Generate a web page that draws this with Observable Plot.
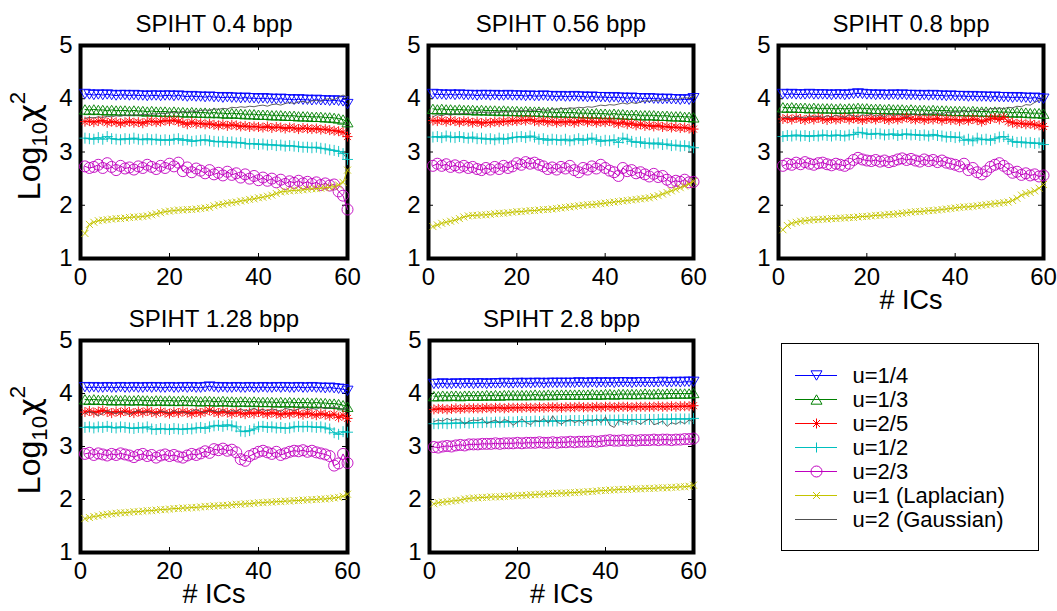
<!DOCTYPE html>
<html><head><meta charset="utf-8">
<script src="https://cdn.jsdelivr.net/npm/d3@7"></script>
<script src="https://cdn.jsdelivr.net/npm/@observablehq/plot@0.6"></script>
<style>
html,body{margin:0;padding:0;background:#fff;overflow:hidden;}
#root{position:relative;width:1057px;height:611px;overflow:hidden;font-family:"Liberation Sans",Arial,Helvetica,sans-serif;color:#000;}
#root svg{position:absolute;overflow:visible;}
.ylab{position:absolute;transform:translate(-50%,-50%) rotate(-90deg);font-size:32px;white-space:nowrap;line-height:1;}
.ylab sub{font-size:0.7em;vertical-align:-0.3em;line-height:0;}
.ylab sup{font-size:0.7em;vertical-align:0.65em;line-height:0;}
.ylab .chi{font-family:"DejaVu Sans",sans-serif;font-size:0.95em;}
</style></head>
<body><div id="root"></div>
<script>
// ---------------- data ----------------
const icCount = [1,2,3,4,5,6,7,8,9,10,11,12,13,14,15,16,17,18,19,20,21,22,23,24,25,26,27,28,29,30,
 31,32,33,34,35,36,37,38,39,40,41,42,43,44,45,46,47,48,49,50,51,52,53,54,55,56,57,58,59,60];
const seriesNames = ["u=1/4","u=1/3","u=2/5","u=1/2","u=2/3","u=1 (Laplacian)","u=2 (Gaussian)"];
const panelTitles = ["SPIHT 0.4 bpp","SPIHT 0.56 bpp","SPIHT 0.8 bpp","SPIHT 1.28 bpp","SPIHT 2.8 bpp"];
const xTicks = [0,20,40,60];
const yTicks = [1,2,3,4,5];
const xLabel = "# ICs";

// SPIHT 0.4 bpp
const b04_u14 = [4.09,4.08,4.07,4.08,4.07,4.08,4.07,4.06,4.07,4.07,4.06,4.07,4.06,4.06,4.05,4.06,4.06,4.05,4.06,4.06,
 4.05,4.06,4.05,4.04,4.05,4.04,4.04,4.03,4.04,4.03,4.03,4.02,4.03,4.02,4.02,4.01,4.02,4.01,4.01,4.00,
 4.01,4.00,4.00,3.99,4.00,3.99,3.99,3.98,3.99,3.98,3.98,3.97,3.98,3.97,3.97,3.96,3.97,3.96,3.95,3.90];
const b04_u13 = [3.80,3.79,3.80,3.79,3.79,3.78,3.79,3.78,3.78,3.78,3.77,3.78,3.77,3.77,3.76,3.77,3.76,3.76,3.76,3.75,
 3.76,3.75,3.75,3.74,3.75,3.74,3.74,3.74,3.73,3.74,3.73,3.73,3.72,3.73,3.72,3.72,3.71,3.71,3.71,3.70,
 3.70,3.70,3.69,3.69,3.69,3.68,3.68,3.68,3.67,3.67,3.67,3.66,3.66,3.66,3.65,3.65,3.64,3.63,3.61,3.56];
const b04_u25 = [3.57,3.58,3.56,3.58,3.59,3.55,3.57,3.56,3.54,3.56,3.57,3.55,3.56,3.54,3.57,3.58,3.56,3.57,3.59,3.58,
 3.60,3.57,3.55,3.52,3.56,3.53,3.54,3.52,3.53,3.51,3.50,3.52,3.49,3.51,3.50,3.48,3.49,3.47,3.48,3.47,
 3.46,3.48,3.45,3.47,3.46,3.44,3.46,3.45,3.43,3.45,3.44,3.43,3.44,3.42,3.43,3.41,3.40,3.39,3.37,3.29];
const b04_u12 = [3.26,3.25,3.24,3.27,3.24,3.29,3.25,3.24,3.23,3.25,3.24,3.26,3.24,3.23,3.25,3.23,3.24,3.22,3.23,3.22,
 3.24,3.25,3.22,3.23,3.20,3.21,3.22,3.23,3.21,3.20,3.19,3.20,3.18,3.19,3.17,3.18,3.16,3.15,3.16,3.14,
 3.15,3.13,3.14,3.12,3.13,3.11,3.12,3.11,3.10,3.09,3.09,3.08,3.09,3.07,3.06,3.04,3.03,3.01,2.97,2.86];
const b04_u23 = [2.73,2.70,2.72,2.76,2.70,2.79,2.72,2.66,2.74,2.69,2.71,2.67,2.73,2.70,2.76,2.72,2.68,2.74,2.70,2.78,
 2.73,2.80,2.64,2.71,2.62,2.69,2.65,2.60,2.66,2.58,2.61,2.56,2.63,2.57,2.60,2.52,2.58,2.50,2.55,2.47,
 2.52,2.46,2.50,2.43,2.48,2.40,2.45,2.42,2.46,2.41,2.44,2.40,2.43,2.38,2.41,2.37,2.39,2.26,2.18,1.92];
const b04_u1 = [1.47,1.64,1.68,1.71,1.72,1.73,1.74,1.75,1.75,1.76,1.77,1.78,1.78,1.79,1.80,1.82,1.84,1.86,1.88,1.89,
 1.90,1.91,1.91,1.92,1.92,1.93,1.94,1.95,1.96,1.99,2.01,2.02,2.04,2.05,2.06,2.08,2.09,2.11,2.12,2.14,
 2.15,2.17,2.19,2.22,2.25,2.26,2.27,2.28,2.28,2.29,2.30,2.31,2.31,2.32,2.33,2.34,2.35,2.38,2.43,2.66];
const b04_u2 = [3.63,3.65,3.64,3.66,3.65,3.67,3.66,3.68,3.67,3.69,3.68,3.70,3.69,3.71,3.70,3.72,3.71,3.73,3.72,3.74,
 3.75,3.73,3.76,3.75,3.77,3.76,3.78,3.79,3.78,3.81,3.80,3.82,3.81,3.84,3.83,3.85,3.84,3.86,3.85,3.87,
 3.88,3.86,3.89,3.90,3.88,3.91,3.93,3.91,3.94,3.95,3.93,3.96,3.97,3.95,3.99,4.00,3.98,4.03,4.07,4.03];

// SPIHT 0.56 bpp
const b056_u14 = [4.09,4.08,4.08,4.07,4.08,4.07,4.08,4.07,4.07,4.07,4.06,4.07,4.07,4.06,4.07,4.06,4.06,4.07,4.06,4.06,
 4.06,4.05,4.06,4.05,4.05,4.06,4.05,4.05,4.04,4.05,4.04,4.04,4.05,4.04,4.04,4.03,4.04,4.03,4.03,4.03,
 4.02,4.03,4.02,4.02,4.01,4.02,4.01,4.01,4.00,4.01,4.00,4.00,3.99,4.00,3.99,3.99,3.98,3.99,3.98,4.01];
const b056_u13 = [3.81,3.80,3.81,3.80,3.80,3.79,3.80,3.79,3.79,3.79,3.78,3.79,3.78,3.78,3.78,3.77,3.78,3.77,3.77,3.77,
 3.76,3.77,3.76,3.76,3.76,3.75,3.75,3.75,3.74,3.75,3.74,3.74,3.74,3.73,3.73,3.73,3.72,3.73,3.72,3.72,
 3.71,3.72,3.71,3.71,3.70,3.70,3.70,3.69,3.69,3.69,3.69,3.68,3.68,3.68,3.67,3.67,3.67,3.66,3.66,3.65];
const b056_u25 = [3.59,3.58,3.60,3.57,3.59,3.58,3.56,3.58,3.57,3.55,3.57,3.54,3.56,3.55,3.57,3.56,3.58,3.57,3.59,3.58,
 3.60,3.59,3.61,3.58,3.57,3.59,3.56,3.58,3.55,3.57,3.56,3.58,3.55,3.57,3.59,3.56,3.58,3.55,3.57,3.56,
 3.58,3.55,3.53,3.56,3.52,3.54,3.50,3.52,3.49,3.50,3.48,3.50,3.47,3.48,3.46,3.47,3.45,3.46,3.44,3.43];
const b056_u12 = [3.28,3.29,3.27,3.30,3.28,3.27,3.29,3.27,3.26,3.28,3.25,3.26,3.24,3.25,3.23,3.26,3.24,3.25,3.27,3.28,
 3.29,3.27,3.30,3.28,3.24,3.25,3.22,3.24,3.23,3.22,3.24,3.21,3.23,3.25,3.22,3.24,3.26,3.23,3.20,3.22,
 3.21,3.23,3.18,3.26,3.24,3.20,3.18,3.19,3.16,3.17,3.15,3.17,3.14,3.15,3.12,3.13,3.11,3.12,3.10,3.08];
const b056_u23 = [2.74,2.78,2.74,2.77,2.72,2.75,2.71,2.74,2.70,2.72,2.68,2.66,2.70,2.67,2.72,2.68,2.74,2.70,2.73,2.79,
 2.76,2.81,2.78,2.80,2.76,2.73,2.68,2.71,2.67,2.72,2.69,2.74,2.66,2.62,2.70,2.67,2.73,2.69,2.76,2.70,
 2.65,2.62,2.55,2.70,2.64,2.66,2.60,2.62,2.58,2.54,2.59,2.53,2.55,2.48,2.43,2.46,2.44,2.48,2.43,2.44];
const b056_u1 = [1.60,1.63,1.66,1.68,1.70,1.72,1.75,1.78,1.80,1.81,1.81,1.82,1.82,1.83,1.84,1.85,1.85,1.86,1.87,1.88,
 1.88,1.89,1.90,1.90,1.91,1.92,1.92,1.93,1.94,1.95,1.96,1.97,1.98,1.99,2.00,2.01,2.01,2.02,2.03,2.04,
 2.05,2.06,2.07,2.08,2.09,2.10,2.11,2.12,2.13,2.14,2.16,2.18,2.21,2.24,2.27,2.30,2.33,2.36,2.40,2.45];
const b056_u2 = [3.66,3.70,3.68,3.71,3.69,3.72,3.71,3.73,3.72,3.74,3.73,3.75,3.74,3.73,3.75,3.74,3.76,3.75,3.77,3.76,
 3.78,3.77,3.79,3.78,3.80,3.79,3.78,3.81,3.80,3.82,3.81,3.83,3.82,3.84,3.83,3.85,3.84,3.86,3.88,3.87,
 3.89,3.88,3.90,3.92,3.90,3.93,3.91,3.94,3.96,3.95,3.97,3.96,3.98,3.97,3.99,3.98,4.00,4.02,4.01,4.04];

// SPIHT 0.8 bpp
const b08_u14 = [4.09,4.08,4.09,4.08,4.08,4.08,4.09,4.08,4.08,4.08,4.08,4.07,4.08,4.08,4.07,4.08,4.09,4.10,4.09,4.08,
 4.08,4.07,4.08,4.07,4.07,4.08,4.07,4.08,4.07,4.07,4.07,4.06,4.07,4.06,4.07,4.06,4.06,4.05,4.06,4.05,
 4.05,4.05,4.04,4.05,4.04,4.04,4.04,4.03,4.04,4.03,4.03,4.03,4.02,4.03,4.02,4.02,4.01,4.02,4.01,4.00];
const b08_u13 = [3.84,3.83,3.84,3.83,3.83,3.83,3.82,3.83,3.82,3.82,3.82,3.82,3.81,3.82,3.81,3.82,3.82,3.83,3.82,3.82,
 3.81,3.81,3.81,3.80,3.81,3.80,3.80,3.80,3.79,3.80,3.79,3.79,3.79,3.78,3.79,3.78,3.78,3.78,3.77,3.77,
 3.77,3.77,3.76,3.77,3.76,3.76,3.76,3.75,3.76,3.75,3.75,3.75,3.74,3.75,3.74,3.74,3.73,3.73,3.73,3.72];
const b08_u25 = [3.62,3.63,3.61,3.64,3.62,3.60,3.63,3.61,3.64,3.62,3.60,3.63,3.61,3.62,3.64,3.61,3.63,3.62,3.60,3.62,
 3.63,3.61,3.64,3.62,3.60,3.63,3.61,3.63,3.65,3.62,3.61,3.63,3.60,3.62,3.61,3.63,3.59,3.62,3.60,3.61,
 3.58,3.61,3.59,3.62,3.60,3.57,3.60,3.62,3.64,3.61,3.65,3.57,3.55,3.53,3.54,3.52,3.53,3.51,3.50,3.48];
const b08_u12 = [3.29,3.31,3.30,3.32,3.30,3.31,3.29,3.31,3.30,3.32,3.31,3.30,3.32,3.31,3.30,3.32,3.33,3.37,3.36,3.34,
 3.33,3.35,3.34,3.32,3.33,3.34,3.31,3.33,3.34,3.32,3.33,3.31,3.32,3.30,3.33,3.31,3.30,3.28,3.29,3.27,
 3.28,3.22,3.24,3.21,3.26,3.23,3.24,3.22,3.25,3.28,3.29,3.24,3.20,3.18,3.19,3.17,3.18,3.16,3.17,3.14];
const b08_u23 = [2.74,2.78,2.76,2.80,2.77,2.81,2.78,2.76,2.79,2.80,2.77,2.75,2.78,2.76,2.74,2.78,2.85,2.89,2.86,2.84,
 2.83,2.85,2.82,2.84,2.81,2.83,2.86,2.88,2.85,2.87,2.84,2.82,2.86,2.83,2.85,2.81,2.84,2.80,2.78,2.76,
 2.73,2.78,2.66,2.70,2.62,2.58,2.64,2.72,2.76,2.79,2.74,2.68,2.61,2.63,2.57,2.60,2.56,2.58,2.54,2.56];
const b08_u1 = [1.54,1.62,1.66,1.68,1.70,1.71,1.72,1.73,1.73,1.74,1.74,1.75,1.75,1.76,1.76,1.77,1.77,1.78,1.79,1.79,
 1.80,1.81,1.81,1.82,1.83,1.83,1.84,1.85,1.86,1.87,1.88,1.88,1.89,1.90,1.90,1.91,1.92,1.93,1.94,1.95,
 1.96,1.97,1.97,1.98,1.99,2.00,2.01,2.02,2.03,2.04,2.05,2.06,2.09,2.13,2.19,2.22,2.24,2.27,2.32,2.39];
const b08_u2 = [3.64,3.66,3.63,3.67,3.65,3.64,3.68,3.66,3.67,3.65,3.68,3.66,3.69,3.67,3.65,3.70,3.68,3.66,3.70,3.68,
 3.71,3.67,3.70,3.66,3.72,3.68,3.71,3.69,3.64,3.70,3.72,3.68,3.73,3.70,3.74,3.72,3.71,3.75,3.73,3.76,
 3.74,3.78,3.76,3.79,3.77,3.80,3.78,3.82,3.81,3.83,3.81,3.84,3.83,3.86,3.85,3.89,3.88,3.93,3.97,4.02];

// SPIHT 1.28 bpp
const b128_u14 = [4.12,4.11,4.12,4.11,4.11,4.12,4.11,4.11,4.12,4.11,4.11,4.12,4.11,4.11,4.12,4.11,4.12,4.11,4.11,4.12,
 4.11,4.11,4.12,4.11,4.12,4.11,4.11,4.12,4.13,4.12,4.11,4.12,4.11,4.11,4.12,4.11,4.11,4.12,4.11,4.11,
 4.12,4.11,4.11,4.12,4.11,4.12,4.11,4.11,4.12,4.11,4.11,4.12,4.11,4.11,4.10,4.11,4.10,4.09,4.08,4.05];
const b128_u13 = [3.89,3.88,3.89,3.88,3.88,3.88,3.87,3.88,3.87,3.88,3.87,3.87,3.88,3.87,3.87,3.86,3.87,3.87,3.86,3.87,
 3.86,3.86,3.87,3.86,3.86,3.86,3.85,3.86,3.86,3.85,3.85,3.86,3.85,3.85,3.84,3.85,3.85,3.84,3.85,3.84,
 3.84,3.84,3.84,3.83,3.84,3.83,3.84,3.83,3.83,3.83,3.83,3.82,3.83,3.82,3.82,3.81,3.81,3.80,3.78,3.75];
const b128_u25 = [3.65,3.67,3.64,3.66,3.68,3.65,3.63,3.66,3.64,3.67,3.65,3.63,3.66,3.64,3.67,3.65,3.63,3.66,3.64,3.62,
 3.65,3.63,3.66,3.64,3.62,3.65,3.63,3.66,3.68,3.65,3.63,3.66,3.64,3.62,3.65,3.63,3.61,3.64,3.62,3.65,
 3.63,3.61,3.64,3.62,3.60,3.63,3.61,3.64,3.62,3.60,3.63,3.61,3.59,3.62,3.60,3.58,3.61,3.55,3.59,3.53];
const b128_u12 = [3.36,3.37,3.35,3.37,3.36,3.38,3.36,3.35,3.37,3.36,3.35,3.34,3.36,3.35,3.37,3.33,3.32,3.34,3.33,3.32,
 3.34,3.33,3.32,3.34,3.33,3.35,3.36,3.34,3.37,3.39,3.40,3.38,3.41,3.39,3.37,3.29,3.28,3.30,3.33,3.37,
 3.38,3.36,3.37,3.35,3.36,3.34,3.35,3.37,3.38,3.37,3.38,3.37,3.36,3.37,3.35,3.33,3.26,3.23,3.28,3.27];
const b128_u23 = [2.86,2.88,2.84,2.87,2.85,2.83,2.86,2.84,2.87,2.85,2.83,2.80,2.84,2.86,2.82,2.84,2.79,2.83,2.85,2.82,
 2.84,2.81,2.79,2.83,2.86,2.84,2.87,2.91,2.88,2.95,2.93,2.96,2.92,2.94,2.89,2.76,2.73,2.82,2.86,2.90,
 2.92,2.89,2.86,2.90,2.84,2.87,2.90,2.92,2.91,2.93,2.90,2.92,2.89,2.87,2.85,2.82,2.64,2.68,2.86,2.69];
const b128_u1 = [1.64,1.66,1.68,1.69,1.71,1.72,1.73,1.74,1.75,1.75,1.76,1.77,1.77,1.78,1.79,1.79,1.80,1.81,1.81,1.82,
 1.83,1.83,1.84,1.84,1.85,1.85,1.86,1.87,1.87,1.88,1.88,1.89,1.89,1.90,1.91,1.91,1.92,1.92,1.93,1.94,
 1.94,1.95,1.95,1.96,1.96,1.97,1.97,1.98,1.98,1.99,1.99,2.00,2.00,2.01,2.01,2.02,2.03,2.04,2.06,2.10];
const b128_u2 = [3.62,3.66,3.64,3.58,3.63,3.67,3.65,3.62,3.66,3.64,3.60,3.65,3.68,3.63,3.66,3.64,3.61,3.67,3.65,3.63,
 3.68,3.64,3.66,3.62,3.67,3.70,3.66,3.64,3.69,3.67,3.65,3.70,3.63,3.68,3.66,3.71,3.67,3.69,3.72,3.68,
 3.70,3.67,3.71,3.69,3.66,3.72,3.70,3.68,3.71,3.73,3.69,3.72,3.70,3.74,3.71,3.73,3.75,3.72,3.70,3.73];

// SPIHT 2.8 bpp
const b28_u14 = [4.18,4.18,4.19,4.18,4.18,4.19,4.18,4.19,4.19,4.18,4.19,4.19,4.18,4.19,4.19,4.19,4.20,4.19,4.19,4.20,
 4.19,4.20,4.19,4.20,4.20,4.19,4.20,4.20,4.20,4.20,4.20,4.20,4.20,4.21,4.20,4.20,4.21,4.20,4.21,4.20,
 4.21,4.20,4.21,4.21,4.21,4.20,4.21,4.21,4.21,4.21,4.21,4.21,4.22,4.21,4.21,4.22,4.21,4.22,4.22,4.22];
const b28_u13 = [3.95,3.95,3.96,3.95,3.96,3.96,3.95,3.96,3.96,3.96,3.96,3.96,3.97,3.96,3.97,3.96,3.97,3.97,3.97,3.97,
 3.97,3.97,3.97,3.98,3.97,3.97,3.98,3.97,3.98,3.98,3.98,3.98,3.98,3.98,3.98,3.98,3.99,3.98,3.98,3.99,
 3.99,3.98,3.99,3.99,3.99,3.99,3.99,3.99,4.00,3.99,3.99,4.00,3.99,4.00,4.00,4.00,4.00,4.00,4.00,4.01];
const b28_u25 = [3.70,3.71,3.71,3.70,3.71,3.72,3.71,3.72,3.72,3.72,3.72,3.72,3.73,3.72,3.73,3.73,3.72,3.73,3.73,3.73,
 3.73,3.74,3.73,3.73,3.74,3.73,3.74,3.74,3.74,3.73,3.74,3.74,3.74,3.75,3.74,3.74,3.74,3.75,3.74,3.75,
 3.75,3.74,3.75,3.75,3.75,3.74,3.75,3.75,3.75,3.75,3.75,3.76,3.75,3.75,3.76,3.75,3.76,3.76,3.76,3.77];
const b28_u12 = [3.43,3.43,3.44,3.43,3.44,3.44,3.44,3.45,3.44,3.45,3.45,3.45,3.46,3.45,3.46,3.46,3.46,3.47,3.46,3.47,
 3.47,3.47,3.47,3.48,3.47,3.48,3.48,3.48,3.48,3.49,3.48,3.49,3.49,3.49,3.49,3.50,3.49,3.50,3.50,3.50,
 3.50,3.50,3.50,3.51,3.50,3.51,3.51,3.51,3.51,3.51,3.51,3.51,3.52,3.51,3.52,3.52,3.52,3.52,3.52,3.53];
const b28_u23 = [2.99,2.98,3.00,3.01,3.00,3.02,3.03,3.02,3.04,3.04,3.04,3.05,3.05,3.05,3.06,3.05,3.06,3.06,3.06,3.07,
 3.06,3.07,3.07,3.07,3.08,3.07,3.07,3.08,3.07,3.08,3.08,3.09,3.08,3.09,3.09,3.09,3.10,3.09,3.10,3.11,
 3.12,3.11,3.11,3.12,3.11,3.12,3.11,3.12,3.12,3.12,3.13,3.12,3.13,3.13,3.12,3.13,3.13,3.14,3.14,3.15];
const b28_u1 = [1.92,1.94,1.95,1.96,1.97,1.98,1.99,2.01,2.02,2.03,2.03,2.04,2.04,2.05,2.05,2.05,2.06,2.06,2.07,2.07,
 2.08,2.08,2.09,2.09,2.10,2.10,2.11,2.11,2.12,2.12,2.12,2.13,2.13,2.14,2.14,2.15,2.15,2.16,2.17,2.17,
 2.18,2.18,2.19,2.19,2.19,2.20,2.20,2.20,2.21,2.21,2.21,2.22,2.22,2.22,2.23,2.23,2.24,2.24,2.25,2.27];
const b28_u2 = [3.47,3.50,3.48,3.53,3.49,3.51,3.50,3.42,3.48,3.50,3.49,3.52,3.43,3.47,3.50,3.44,3.51,3.48,3.40,3.46,
 3.52,3.45,3.41,3.49,3.47,3.53,3.44,3.58,3.46,3.42,3.48,3.51,3.45,3.49,3.43,3.50,3.47,3.52,3.45,3.56,
 3.40,3.36,3.49,3.46,3.43,3.50,3.47,3.42,3.48,3.52,3.41,3.44,3.48,3.38,3.45,3.42,3.47,3.43,3.50,3.46];

const panelValues = [
  [b04_u14,b04_u13,b04_u25,b04_u12,b04_u23,b04_u1,b04_u2],
  [b056_u14,b056_u13,b056_u25,b056_u12,b056_u23,b056_u1,b056_u2],
  [b08_u14,b08_u13,b08_u25,b08_u12,b08_u23,b08_u1,b08_u2],
  [b128_u14,b128_u13,b128_u25,b128_u12,b128_u23,b128_u1,b128_u2],
  [b28_u14,b28_u13,b28_u25,b28_u12,b28_u23,b28_u1,b28_u2]
];

// ---------------- styles ----------------
const seriesColors = ["#0000ff","#008000","#ff0000","#00bfbf","#bf00bf","#c4c400","#505050"];
const symTriDown = {draw(c, s){const r=Math.sqrt(s/Math.PI); c.moveTo(-r,-0.85*r); c.lineTo(r,-0.85*r); c.lineTo(0,0.85*r); c.closePath();}};
const symTriUp = {draw(c, s){const r=Math.sqrt(s/Math.PI); c.moveTo(-r,0.85*r); c.lineTo(r,0.85*r); c.lineTo(0,-0.85*r); c.closePath();}};
const symAst = {draw(c, s){const r=Math.sqrt(s/Math.PI), q=r*0.7; c.moveTo(0,-r); c.lineTo(0,r); c.moveTo(-r,0); c.lineTo(r,0); c.moveTo(-q,-q); c.lineTo(q,q); c.moveTo(-q,q); c.lineTo(q,-q);}};
const symPlus = {draw(c, s){const r=Math.sqrt(s/Math.PI); c.moveTo(0,-r); c.lineTo(0,r); c.moveTo(-r,0); c.lineTo(r,0);}};
const symCircle = {draw(c, s){const r=Math.sqrt(s/Math.PI); c.moveTo(r,0); c.arc(0,0,r,0,2*Math.PI);}};
const symTimes = {draw(c, s){const r=Math.sqrt(s/Math.PI); c.moveTo(-r,-r); c.lineTo(r,r); c.moveTo(-r,r); c.lineTo(r,-r);}};
const seriesSymbols = [symTriDown, symTriUp, symAst, symPlus, symCircle, symTimes, null];
const seriesR = [5.5, 5.5, 5, 5.5, 5.5, 3.5, 0];
const legendR = [5.5, 5.5, 5, 5, 5.5, 3.5, 0];

const FONT = '"Liberation Sans", Arial, Helvetica, sans-serif';
// frame boxes in page pixels
const layout = [
  {left:80, top:45, w:267, h:213, ylab:true, xlab:false},
  {left:428, top:45, w:265, h:213, ylab:false, xlab:false},
  {left:778, top:45, w:265, h:213, ylab:false, xlab:true},
  {left:80, top:340, w:267, h:212, ylab:true, xlab:true},
  {left:429, top:340, w:264, h:212, ylab:false, xlab:true}
];
const M = {l:60, r:30, t:45, b:75};

const root = document.getElementById("root");

panelTitles.forEach((title, pi) => {
  const lay = layout[pi];
  const marks = [
    Plot.frame({stroke:"#000", strokeWidth:4}),
    Plot.tickX(xTicks.slice(1,-1), {x:d=>d, insetTop: lay.h-5, stroke:"#000"}),
    Plot.tickX(xTicks.slice(1,-1), {x:d=>d, insetBottom: lay.h-5, stroke:"#000"}),
    Plot.tickY(yTicks.slice(1,-1), {y:d=>d, insetRight: lay.w-5, stroke:"#000"}),
    Plot.tickY(yTicks.slice(1,-1), {y:d=>d, insetLeft: lay.w-5, stroke:"#000"}),
    Plot.axisX(xTicks, {anchor:"bottom", tickSize:0, tickPadding:9, fontSize:24, label:null, tickFormat:d=>String(d)}),
    Plot.axisY(yTicks, {anchor:"left", tickSize:0, tickPadding:8, fontSize:24, label:null, tickFormat:d=>String(d)}),
    Plot.text([title], {frameAnchor:"top", dy:-14, lineAnchor:"bottom", fontSize:24})
  ];
  if (lay.xlab) marks.push(Plot.text([xLabel], {frameAnchor:"bottom", dy:31, lineAnchor:"top", fontSize:27}));
  seriesNames.forEach((name, si) => {
    const vals = panelValues[pi][si];
    const rows = icCount.map((ic, k) => ({ic, v: vals[k]}));
    marks.push(Plot.line(rows, {x:"ic", y:"v", stroke: seriesColors[si], strokeWidth: si===6 ? 0.9 : 1}));
    if (seriesSymbols[si]) marks.push(Plot.dot(rows, {x:"ic", y:"v", symbol: seriesSymbols[si], r: seriesR[si], stroke: seriesColors[si], fill:"none", strokeWidth:0.9}));
  });
  const svg = Plot.plot({
    width: M.l + lay.w + M.r, height: M.t + lay.h + M.b,
    marginLeft: M.l, marginRight: M.r, marginTop: M.t, marginBottom: M.b,
    x: {domain:[0,60], label:null},
    y: {domain:[1,5], label:null},
    style: {fontFamily: FONT, color:"#000", background:"transparent", overflow:"visible"},
    marks
  });
  svg.style.left = (lay.left - M.l) + "px";
  svg.style.top = (lay.top - M.t) + "px";
  root.appendChild(svg);
  if (lay.ylab) {
    const d = document.createElement("div");
    d.className = "ylab";
    d.innerHTML = 'Log<sub>10</sub><span class="chi">χ</span><sup>2</sup>';
    d.style.left = "29px";
    d.style.top = (lay.top + lay.h/2 - 6) + "px";
    root.appendChild(d);
  }
});

// legend
const legMarks = [Plot.frame({stroke:"#000", strokeWidth:1})];
seriesNames.forEach((name, si) => {
  legMarks.push(Plot.ruleY([name], {y:d=>d, x1:14, x2:56, stroke: seriesColors[si], strokeWidth:1}));
  if (seriesSymbols[si]) legMarks.push(Plot.dot([name], {x:35, y:d=>d, symbol: seriesSymbols[si], r: legendR[si], stroke: seriesColors[si], fill:"none", strokeWidth:1}));
});
legMarks.push(Plot.text(seriesNames, {y:d=>d, x:71, text:d=>d, textAnchor:"start", fontSize:22}));
const leg = Plot.plot({
  width: 259, height: 209, marginLeft:1, marginRight:1, marginTop:1, marginBottom:1,
  x: {domain:[0,257], axis:null},
  y: {type:"point", domain: seriesNames, range:[20,190], axis:null},
  style: {fontFamily: FONT, color:"#000", background:"transparent", overflow:"visible"},
  marks: legMarks
});
leg.style.left = "780px";
leg.style.top = "342px";
root.appendChild(leg);
</script>
</body></html>
